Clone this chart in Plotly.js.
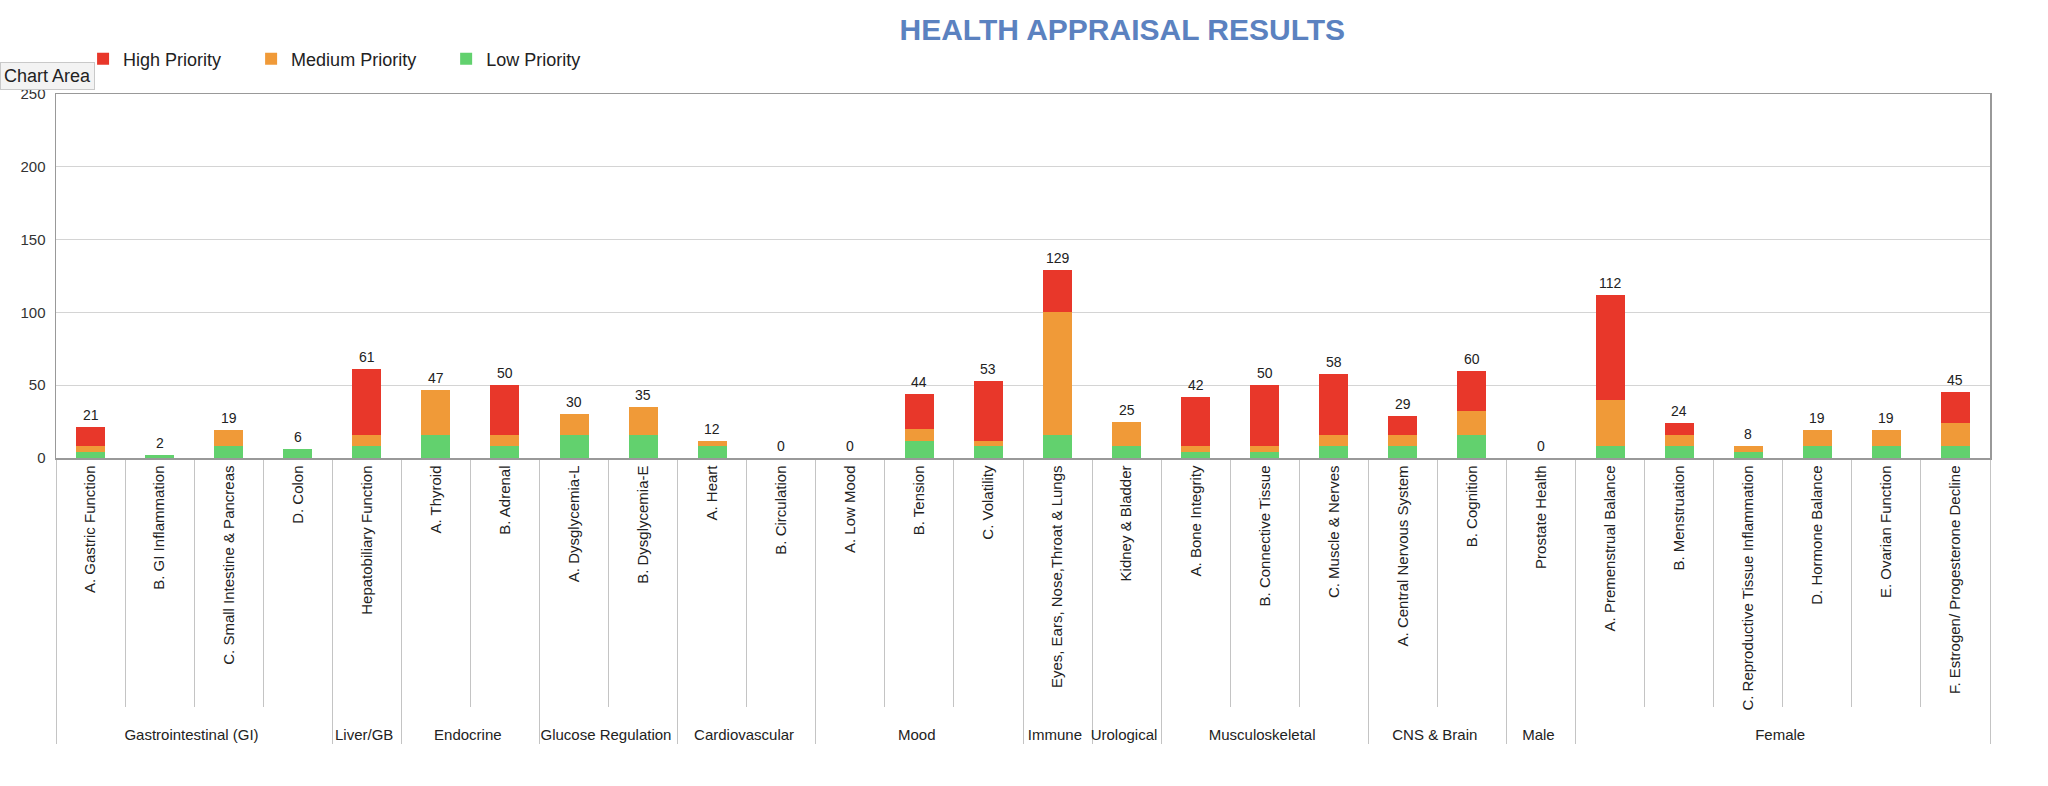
<!DOCTYPE html>
<html>
<head>
<meta charset="utf-8">
<script src="https://cdn.plot.ly/plotly-3.0.1.min.js"></script>
<style>
  html, body { margin: 0; padding: 0; background: #fff; }
  #chart { width: 2048px; height: 786px; }
</style>
</head>
<body>
<div id="chart"></div>
<script>
// Grupos e categorias do eixo x
const grupos = [
  "Gastrointestinal (GI)", "Gastrointestinal (GI)", "Gastrointestinal (GI)", "Gastrointestinal (GI)",
  "Liver/GB",
  "Endocrine", "Endocrine",
  "Glucose Regulation", "Glucose Regulation",
  "Cardiovascular", "Cardiovascular",
  "Mood", "Mood", "Mood",
  "Immune",
  "Urological",
  "Musculoskeletal", "Musculoskeletal", "Musculoskeletal",
  "CNS & Brain", "CNS & Brain",
  "Male",
  "Female", "Female", "Female", "Female", "Female", "Female"
];
const categorias = [
  "A. Gastric Function", "B. GI Inflammation", "C. Small Intestine & Pancreas", "D. Colon",
  "Hepatobiliary Function",
  "A. Thyroid", "B. Adrenal",
  "A. Dysglycemia-L", "B. Dysglycemia-E",
  "A. Heart", "B. Circulation",
  "A. Low Mood", "B. Tension", "C. Volatility",
  "Eyes, Ears, Nose,Throat & Lungs",
  "Kidney & Bladder",
  "A. Bone Integrity", "B. Connective Tissue", "C. Muscle & Nerves",
  "A. Central Nervous System", "B. Cognition",
  "Prostate Health",
  "A. Premenstrual Balance", "B. Menstruation", "C. Reproductive Tissue Inflammation",
  "D. Hormone Balance", "E. Ovarian Function", "F. Estrogen/ Progesterone Decline"
];

// Valores (empilhados: baixa, média, alta)
const baixa = [4, 2, 8, 6, 8, 16, 8, 16, 16, 8, 0, 0, 12, 8, 16, 8, 4, 4, 8, 8, 16, 0, 8, 8, 4, 8, 8, 8];
const media = [4, 0, 11, 0, 8, 31, 8, 14, 19, 4, 0, 0, 8, 4, 84, 17, 4, 4, 8, 8, 16, 0, 32, 8, 4, 11, 11, 16];
const alta  = [13, 0, 0, 0, 45, 0, 34, 0, 0, 0, 0, 0, 24, 41, 29, 0, 34, 42, 42, 13, 28, 0, 72, 8, 0, 0, 0, 21];

const totais = categorias.map((_, i) => baixa[i] + media[i] + alta[i]);
const eixoX = [grupos, categorias];

const fonte = 'Liberation Sans, Arial, sans-serif';
const espaco = '\u00a0\u00a0\u00a0\u00a0\u00a0';

const data = [
  {
    x: eixoX, y: baixa, type: 'bar', name: 'Low Priority',
    marker: { color: '#62d16e' }, legendrank: 3, hoverinfo: 'y'
  },
  {
    x: eixoX, y: media, type: 'bar', name: 'Medium Priority' + espaco,
    marker: { color: '#f09a38' }, legendrank: 2, hoverinfo: 'y'
  },
  {
    x: eixoX, y: alta, type: 'bar', name: 'High Priority' + espaco,
    marker: { color: '#e8372a' }, legendrank: 1, hoverinfo: 'y'
  }
];

// rótulos com o total acima de cada barra
const rotulos = totais.map((v, i) => ({
  text: String(v),
  xref: 'x', yref: 'y',
  x: i, y: v,
  yanchor: 'bottom', yshift: 2,
  showarrow: false,
  font: { family: fonte, size: 14, color: '#222' }
}));

const layout = {
  width: 2048,
  height: 786,
  barmode: 'stack',
  bargap: 0.58,
  paper_bgcolor: '#fff',
  plot_bgcolor: '#fff',
  margin: { l: 56, r: 58, t: 94, b: 328 },
  font: { family: fonte, color: '#222' },
  title: {
    text: '<b>HEALTH APPRAISAL RESULTS</b>',
    x: 0.548, xref: 'container', xanchor: 'center',
    y: 0.963, yref: 'container', yanchor: 'middle',
    font: { family: fonte, size: 30, color: '#5b82c0' }
  },
  legend: {
    orientation: 'h',
    traceorder: 'normal',
    x: 0.014, xanchor: 'left',
    y: 1.096, yanchor: 'middle',
    font: { family: fonte, size: 18, color: '#222' },
    itemclick: false
  },
  xaxis: {
    type: 'multicategory',
    range: [-0.5, categorias.length - 0.5],
    tickangle: -90,
    tickfont: { family: fonte, size: 15, color: '#222' },
    ticks: 'outside',
    tickson: 'boundaries',
    ticklen: 247,
    tickcolor: '#c4c4c4',
    showdividers: true,
    dividercolor: '#c4c4c4',
    dividerwidth: 1,
    showline: true,
    linecolor: '#999',
    linewidth: 1.5,
    mirror: true,
    automargin: false
  },
  yaxis: {
    range: [0, 250],
    dtick: 50,
    tickfont: { family: fonte, size: 15, color: '#333' },
    ticklabelstandoff: 6,
    showgrid: true,
    gridcolor: '#d4d4d4',
    showline: true,
    linecolor: '#999',
    linewidth: 1.5,
    mirror: true,
    zeroline: false,
    ticks: '',
    automargin: false,
    fixedrange: true
  },
  annotations: rotulos.concat([
    {
      // dica "Chart Area" do print original
      text: 'Chart Area',
      xref: 'paper', yref: 'paper',
      x: -0.029, xanchor: 'left',
      y: 1.05, yanchor: 'middle',
      showarrow: false,
      font: { family: fonte, size: 18, color: '#222' },
      bgcolor: '#f3f3f3',
      bordercolor: '#c9c9c9',
      borderwidth: 1,
      borderpad: 3
    }
  ])
};

Plotly.newPlot('chart', data, layout, { displayModeBar: false, staticPlot: true });
</script>
</body>
</html>
